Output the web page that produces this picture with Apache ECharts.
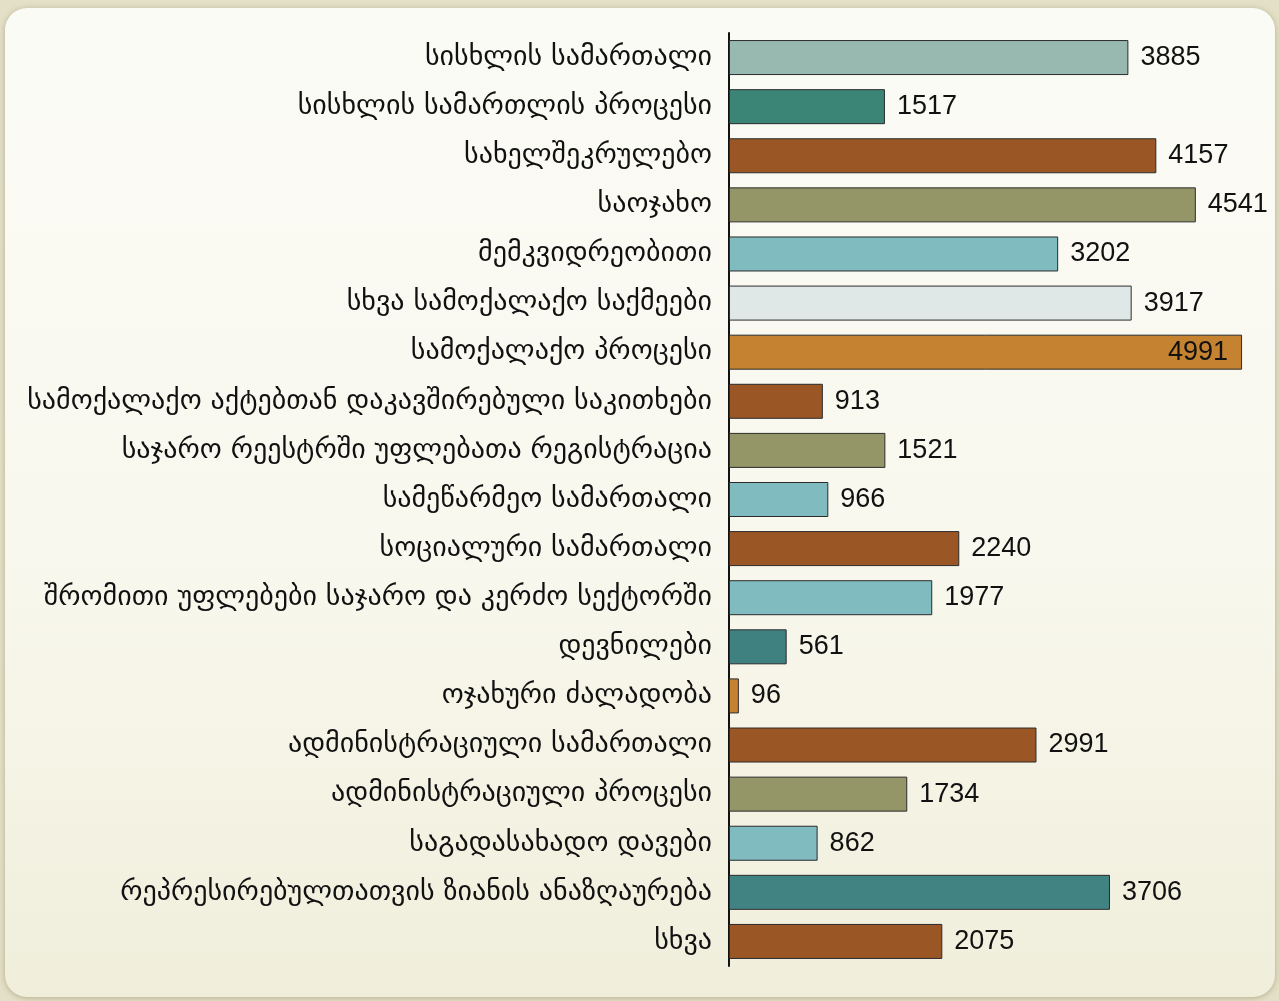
<!DOCTYPE html>
<html>
<head>
<meta charset="utf-8">
<script src="https://cdn.jsdelivr.net/npm/echarts@6/dist/echarts.min.js"></script>
<style>
  html, body { margin: 0; padding: 0; background: #e2dec4; }
  #chart { width: 1279px; height: 1001px; }
</style>
</head>
<body>
<div id="chart"></div>
<script>
var categories = [
  'სისხლის სამართალი',
  'სისხლის სამართლის პროცესი',
  'სახელშეკრულებო',
  'საოჯახო',
  'მემკვიდრეობითი',
  'სხვა სამოქალაქო საქმეები',
  'სამოქალაქო პროცესი',
  'სამოქალაქო აქტებთან დაკავშირებული საკითხები',
  'საჯარო რეესტრში უფლებათა რეგისტრაცია',
  'სამეწარმეო სამართალი',
  'სოციალური სამართალი',
  'შრომითი უფლებები საჯარო და კერძო სექტორში',
  'დევნილები',
  'ოჯახური ძალადობა',
  'ადმინისტრაციული სამართალი',
  'ადმინისტრაციული პროცესი',
  'საგადასახადო დავები',
  'რეპრესირებულთათვის ზიანის ანაზღაურება',
  'სხვა'
];
var values = [3885, 1517, 4157, 4541, 3202, 3917, 4991, 913, 1521, 966, 2240, 1977, 561, 96, 2991, 1734, 862, 3706, 2075];
var barColors = [
  '#97b9b0', '#3b8577', '#9a5725', '#959668', '#80bbbf', '#dfe8e6', '#c58332',
  '#9a5725', '#959668', '#80bbbf', '#9a5725', '#80bbbf', '#3f8181', '#c58332',
  '#9a5725', '#959668', '#80bbbf', '#418282', '#9a5725'
];
var insideIdx = 6; // the longest bar carries its label inside

var chart = echarts.init(document.getElementById('chart'));

var seriesData = values.map(function(v, i) {
  var item = {
    value: v,
    itemStyle: { color: barColors[i] }
  };
  if (i === insideIdx) {
    item.label = { position: 'insideRight', distance: 14 };
  }
  return item;
});

chart.setOption({
  backgroundColor: '#e4e0c7',
  animation: false,
  graphic: [{
    type: 'rect',
    z: -10,
    silent: true,
    shape: { x: 5, y: 8, width: 1270, height: 989, r: 22 },
    style: {
      fill: new echarts.graphic.LinearGradient(0, 0, 0, 1, [
        { offset: 0, color: '#fbfbf6' },
        { offset: 0.55, color: '#f9f8ee' },
        { offset: 1, color: '#f0eedb' }
      ]),
      shadowBlur: 6,
      shadowColor: 'rgba(90, 80, 40, 0.35)',
      shadowOffsetY: 1
    }
  }],
  grid: {
    left: 729,
    right: 36,
    top: 33,
    bottom: 35
  },
  xAxis: {
    type: 'value',
    min: 0,
    max: 5000,
    show: false
  },
  yAxis: {
    type: 'category',
    inverse: true,
    data: categories,
    axisLine: { show: true, lineStyle: { color: '#111', width: 2 } },
    axisTick: { show: false },
    axisLabel: {
      margin: 17,
      color: '#111',
      fontSize: 28,
      fontFamily: 'DejaVu Sans'
    }
  },
  series: [{
    type: 'bar',
    barWidth: 35,
    data: seriesData,
    itemStyle: {
      borderColor: '#2b2b2b',
      borderWidth: 1
    },
    label: {
      show: true,
      position: 'right',
      distance: 12,
      color: '#111',
      fontSize: 27,
      fontFamily: 'Liberation Sans'
    }
  }]
});
</script>
</body>
</html>
